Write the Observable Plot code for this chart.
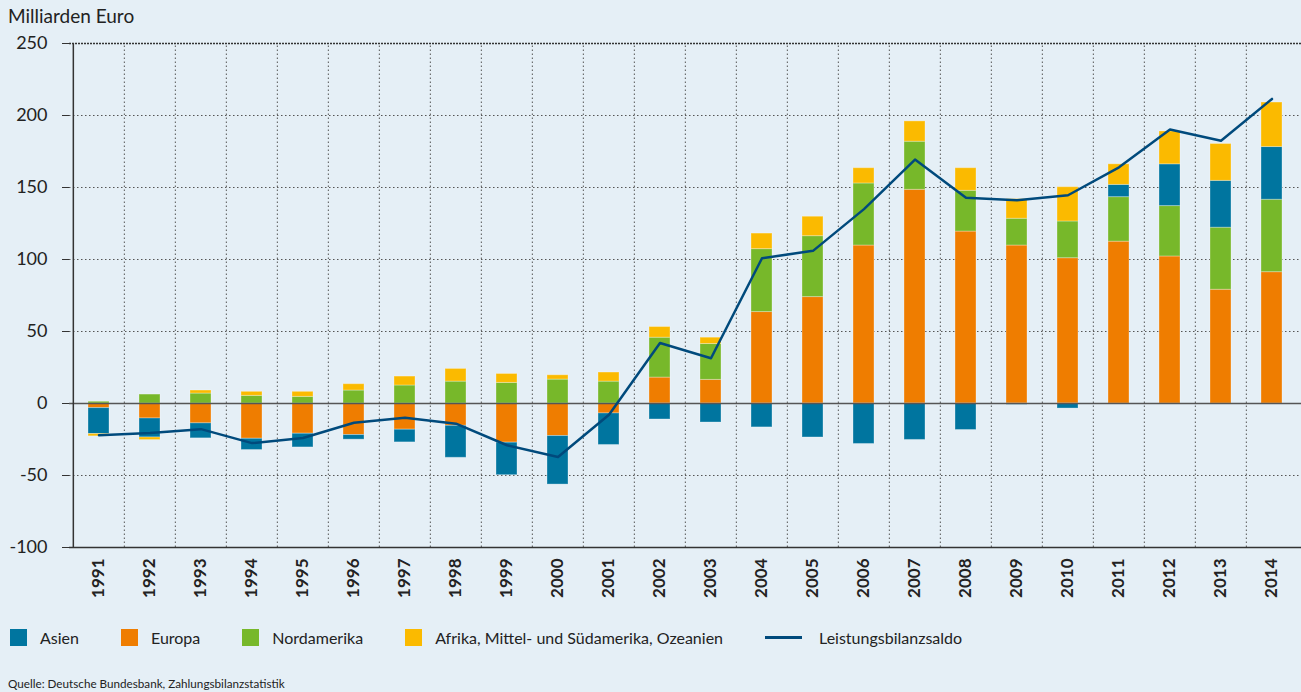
<!DOCTYPE html>
<html><head><meta charset="utf-8">
<script src="https://cdn.jsdelivr.net/npm/d3@7"></script>
<script src="https://cdn.jsdelivr.net/npm/@observablehq/plot@0.6"></script>
<style>
body{margin:0;background:#e5eff6;width:1301px;height:692px;overflow:hidden;font-family:Lato,"Noto Sans",sans-serif;color:#222;position:relative}
#title{position:absolute;left:8px;top:4px;font-size:19px}
#chart{position:absolute;left:0;top:28px}
#legend{position:absolute;left:10px;top:628px;display:flex;align-items:center;font-size:16px;color:#222}
.item{display:flex;align-items:center;margin-right:42px}
.sw{width:17px;height:17px;margin-right:13px}
.ln{width:37px;height:3px;margin-right:17px}
#caption{position:absolute;left:8px;top:676px;font-size:11.7px;color:#222}
</style></head>
<body>
<div id="title">Milliarden Euro</div>
<div id="chart"></div>
<div id="legend"></div>
<div id="caption">Quelle: Deutsche Bundesbank, Zahlungsbilanzstatistik</div>
<script>
const years = ["1991","1992","1993","1994","1995","1996","1997","1998","1999","2000","2001","2002","2003","2004","2005","2006","2007","2008","2009","2010","2011","2012","2013","2014"];
const europa      = [-3.2,-10.4,-13.8,-24.5,-21.0,-21.9,-18.2,-15.5,-27.2,-22.6,-6.9,18.0,16.4,63.5,73.9,109.7,148.4,119.4,109.7,100.9,112.4,102.1,79.0,91.2];
const nordamerika = [1.2,6.2,6.9,5.3,4.6,9.0,12.5,15.2,14.3,16.6,15.2,27.7,24.9,43.7,42.3,43.1,33.4,28.3,18.6,25.5,30.9,35.0,43.1,50.3];
const asien       = [-18.0,-13.2,-10.4,-7.8,-9.5,-3.2,-8.8,-22.2,-22.6,-33.7,-21.9,-11.1,-13.2,-16.6,-23.6,-28.1,-25.3,-18.4,-0.9,-3.5,8.5,29.0,32.5,36.6];
const afrika      = [-1.6,-1.8,2.1,2.8,3.5,4.4,6.2,8.8,6.2,3.0,6.3,7.4,4.4,10.8,13.5,10.6,14.1,15.7,13.6,23.8,14.3,22.8,25.6,30.9];
const saldo       = [-22.0,-20.5,-17.8,-27.5,-24.0,-13.4,-9.9,-14.0,-29.0,-37.2,-7.8,42.0,31.4,100.9,106.0,135.0,169.4,142.9,141.2,144.6,164.0,190.3,182.5,211.5];
const yTicks = [-100,-50,0,50,100,150,200,250];
const gridY = [-50,50,100,150,200];

const regions = ["Asien","Europa","Nordamerika","Afrika, Mittel- und Südamerika, Ozeanien"];
const colors = ["#00759f","#ef7d00","#77b82a","#fbba00"];
const stackOrder = ["Europa","Nordamerika","Asien","Afrika, Mittel- und Südamerika, Ozeanien"];
const lineLabel = "Leistungsbilanzsaldo";
const lineColor = "#004a7c";

const series = {"Asien": asien, "Europa": europa, "Nordamerika": nordamerika, "Afrika, Mittel- und Südamerika, Ozeanien": afrika};
const rows = [];
for (const r of stackOrder) years.forEach((y, i) => rows.push({year: y, region: r, value: series[r][i]}));
const lineRows = years.map((y, i) => ({year: y, value: saldo[i]}));

const W = 1301, mL = 69, mR = 0;
const step = (W - mL - mR) / years.length;

const chart = Plot.plot({
  width: W, height: 582,
  marginLeft: mL, marginRight: mR, marginTop: 15, marginBottom: 63,
  style: {background: "transparent", fontFamily: "Lato, 'Noto Sans', sans-serif", color: "#222"},
  x: {type: "band", domain: years, paddingInner: 0.59, paddingOuter: 0.295, label: null},
  y: {domain: [-100, 250], label: null},
  color: {domain: regions, range: colors},
  marks: [
    Plot.ruleY(gridY, {stroke: "#555", strokeWidth: 1, strokeDasharray: "1.5,2.5"}),
    Plot.ruleX(years.slice(1), {y1: -100, y2: 250, dx: -step / 2, stroke: "#555", strokeWidth: 1, strokeDasharray: "1.5,2.5"}),
    Plot.barY(rows, Plot.stackY({x: "year", y: "value", fill: "region", order: stackOrder, stroke: "white", strokeOpacity: 0.3, strokeWidth: 1})),
    Plot.ruleY([0], {stroke: "#555", strokeWidth: 1.5}),
    Plot.ruleY([250], {stroke: "#333", strokeWidth: 1.5, strokeDasharray: "2,1"}),
    Plot.ruleY([-100], {stroke: "#333", strokeWidth: 1.5}),
    Plot.ruleX([years[0]], {y1: -100, y2: 250, dx: -step / 2, stroke: "#333", strokeWidth: 1.5}),
    Plot.line(lineRows, {x: "year", y: "value", stroke: lineColor, strokeWidth: 2.5}),
    Plot.axisY({ticks: yTicks, tickSize: 7, tickPadding: 15, tickFormat: d => String(d), fontSize: 18, stroke: "#333"}),
    Plot.axisX({tickRotate: -90, tickSize: 0, tickPadding: 11, fontSize: 17, fontWeight: "bold"})
  ]
});
document.getElementById("chart").appendChild(chart);

const leg = document.getElementById("legend");
regions.forEach((r, i) => {
  const it = document.createElement("div"); it.className = "item";
  const sw = document.createElement("span"); sw.className = "sw"; sw.style.background = colors[i];
  const t = document.createElement("span"); t.textContent = r;
  it.append(sw, t); leg.appendChild(it);
});
const it = document.createElement("div"); it.className = "item";
const ln = document.createElement("span"); ln.className = "ln"; ln.style.background = lineColor;
const t = document.createElement("span"); t.textContent = lineLabel;
it.append(ln, t); leg.appendChild(it);
</script>
</body></html>
